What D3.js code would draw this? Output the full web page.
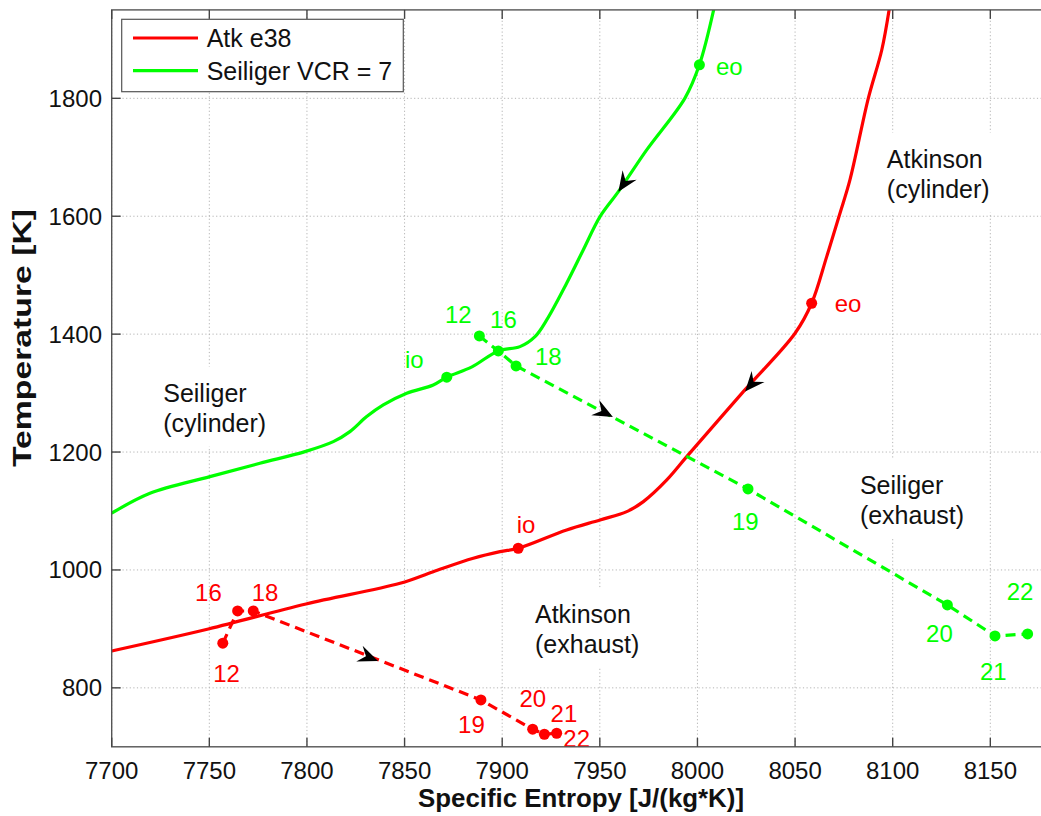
<!DOCTYPE html>
<html><head><meta charset="utf-8">
<script src="https://cdn.jsdelivr.net/npm/d3@7"></script>
<style>body{margin:0;background:#fff} text{font-family:"Liberation Sans",Arial,sans-serif}</style>
</head><body><svg id="c" width="1041" height="816"></svg>
<script>
// ---- data ----
const xTicks = [7700,7750,7800,7850,7900,7950,8000,8050,8100,8150];
const yTicks = [800,1000,1200,1400,1600,1800];
const seriesNames = ["Atk e38","Seiliger VCR = 7"];

const atkCycleS = [7700,7749.5,7799.5,7847.7,7864.7,7885.2,7898.9,7908.2,7933.0,7950.1,7963.8,7972.3,7984.3,7994.5,8023.5,8050.0,8058.5,8066.2,8073.0,8078.1,8087.5,8094.4,8098.3];
const atkCycleT = [862.6,899.9,942.3,977.4,997.1,1019.8,1031.0,1036.8,1067.9,1084.8,1098.9,1115.9,1152.7,1192.2,1302.5,1401.5,1452.4,1531.5,1605.1,1661.6,1800,1882,1953];
const seiCycleS = [7700,7719.6,7750.3,7775.9,7799.0,7813.5,7822.0,7830.6,7839.1,7851.1,7864.7,7871.6,7884.5,7898.0,7909.1,7916.8,7922.8,7933.0,7941.5,7950.1,7959.5,7974.0,7993.6,8001.0,8008.5];
const seiCycleT = [1096.2,1130.1,1158.3,1181.0,1200.7,1217.6,1234.6,1260.1,1279.9,1299.7,1313.8,1326.9,1344.4,1371.5,1378.8,1395.8,1424.1,1486.3,1542.8,1599.3,1641.7,1712.5,1800.4,1856.9,1953];

const exhLabels = ["12","16","18","19","20","21","22"];
const atkExhS = [7756.9,7764.5,7772.5,7889.1,7915.6,7921.6,7927.9];
const atkExhT = [875.7,930.4,930.4,779.5,729.8,721.3,723.0];
const seiExhS = [7888.3,7898.0,7907.1,8025.9,8128.0,8152.4,8169.1];
const seiExhT = [1396.9,1371.5,1346.1,1137.4,940.6,888.0,891.4];

const valveLabels = ["io","eo"];
const atkValveS = [7908.2,8058.5];
const atkValveT = [1036.8,1452.4];
const seiValveS = [7871.6,8001.0];
const seiValveT = [1326.9,1856.9];

// label anchor positions (data coords)
const atkExhLabS = [7752.0,7742.7,7771.7,7877.4,7908.8,7924.8,7931.3];
const atkExhLabT = [810.0,947.4,947.4,723.5,767.6,742.2,699.8];
const seiExhLabS = [7870.7,7893.8,7916.8,8017.7,8117.1,8144.7,8158.4];
const seiExhLabT = [1419.0,1410.5,1347.8,1067.9,877.9,813.4,949.1];
const atkValveLabS = [7907.4,8070.3];
const atkValveLabT = [1062.8,1438.2];
const seiValveLabS = [7850.2,8009.5];
const seiValveLabT = [1342.7,1839.7];

const regionNames = [["Atkinson","(cylinder)"],["Seiliger","(cylinder)"],["Atkinson","(exhaust)"],["Seiliger","(exhaust)"]];
const regionS = [8097,7726.4,7916.8,8083.2];
const regionT = [1682.5,1285.5,909.6,1128.9];

// arrows: tip and a point behind it (data coords)
const arrowTipS = [8024.4,7959.5,7956.7,7836.4];
const arrowTipT = [1302.5,1641.7,1259.5,845.6];
const arrowFromS = [8050.0,7974.0,7907.1,7772.5];
const arrowFromT = [1401.5,1712.5,1346.1,930.4];

// ---- drawing ----
const RED = "#ff0000", GREEN = "#00ff00";
const svg = d3.select("#c");
const L = 111.7, T0 = 9.9, B = 746.8;
const x = d3.scaleLinear().domain([7700,8200]).range([L, L + 500*1.9525]);
const y = d3.scaleLinear().domain([700,1950]).range([B, T0]);
const R = x(8200);

svg.append("defs").append("clipPath").attr("id","clip")
  .append("rect").attr("x",L).attr("y",T0).attr("width",R-L).attr("height",B-T0);

// grid
const grid = svg.append("g").attr("stroke","#b4b4b4").attr("stroke-width",1).attr("stroke-dasharray","1.2,2.4");
xTicks.forEach(t => grid.append("line").attr("x1",x(t)).attr("x2",x(t)).attr("y1",T0).attr("y2",B));
yTicks.forEach(t => grid.append("line").attr("x1",L).attr("x2",R).attr("y1",y(t)).attr("y2",y(t)));

// region annotations (white background)
const annBgLayer = svg.append("g");
const annTxtLayer = svg.append("g");
const annNodes = [];
regionNames.forEach((lines,i) => {
  const t = annTxtLayer.append("text").attr("font-size",25).attr("fill","#111");
  lines.forEach((ln,j) => t.append("tspan").attr("x",x(regionS[i])).attr("y",y(regionT[i]) + j*30).text(ln));
  annNodes.push(t);
});
annNodes.forEach(t => {
  const b = t.node().getBBox();
  annBgLayer.append("rect").attr("x",b.x-12).attr("y",b.y-12).attr("width",b.width+26).attr("height",b.height+22).attr("fill","#fff");
});

const plot = svg.append("g").attr("clip-path","url(#clip)");
const line = d3.line().x(d=>x(d[0])).y(d=>y(d[1])).curve(d3.curveCatmullRom.alpha(0.5));
const zip = (a,b) => a.map((v,i)=>[v,b[i]]);

plot.append("path").attr("d", line(zip(atkCycleS,atkCycleT))).attr("fill","none").attr("stroke",RED).attr("stroke-width",3.2);
plot.append("path").attr("d", line(zip(seiCycleS,seiCycleT))).attr("fill","none").attr("stroke",GREEN).attr("stroke-width",3.2);
const lin = d3.line().x(d=>x(d[0])).y(d=>y(d[1]));
plot.append("path").attr("d", lin(zip(atkExhS,atkExhT))).attr("fill","none").attr("stroke",RED).attr("stroke-width",3.2).attr("stroke-dasharray","10,6");
plot.append("path").attr("d", lin(zip(seiExhS,seiExhT))).attr("fill","none").attr("stroke",GREEN).attr("stroke-width",3.2).attr("stroke-dasharray","10,6");

// markers
function dots(S,Tv,col){
  plot.append("g").selectAll("circle").data(zip(S,Tv)).join("circle")
    .attr("cx",d=>x(d[0])).attr("cy",d=>y(d[1])).attr("r",5.5).attr("fill",col);
}
dots(atkExhS,atkExhT,RED); dots(seiExhS,seiExhT,GREEN);
dots(atkValveS,atkValveT,RED); dots(seiValveS,seiValveT,GREEN);

// arrows
arrowTipS.forEach((s,i) => {
  const tx = x(s), ty = y(arrowTipT[i]);
  const fx = x(arrowFromS[i]), fy = y(arrowFromT[i]);
  const ang = Math.atan2(ty-fy, tx-fx)*180/Math.PI;
  plot.append("path").attr("d","M0,0 L-20,-8.5 L-13,0 L-20,8.5 Z")
    .attr("transform",`translate(${tx},${ty}) rotate(${ang})`).attr("fill","#000");
});

// point labels
function labels(S,Tv,txt,col){
  svg.append("g").selectAll("text").data(txt).join("text")
    .attr("x",(d,i)=>x(S[i])).attr("y",(d,i)=>y(Tv[i])).attr("font-size",24).attr("fill",col).text(d=>d);
}
labels(atkExhLabS,atkExhLabT,exhLabels,RED);
labels(seiExhLabS,seiExhLabT,exhLabels,GREEN);
labels(atkValveLabS,atkValveLabT,valveLabels,RED);
labels(seiValveLabS,seiValveLabT,valveLabels,GREEN);

// axes box and ticks
const ax = svg.append("g");
ax.append("rect").attr("x",L).attr("y",T0).attr("width",R-L).attr("height",B-T0).attr("fill","none").attr("stroke","#555").attr("stroke-width",1.4);
const tk = ax.append("g").attr("stroke","#444").attr("stroke-width",1.4);
xTicks.forEach(t => {
  tk.append("line").attr("x1",x(t)).attr("x2",x(t)).attr("y1",B).attr("y2",B-9);
  tk.append("line").attr("x1",x(t)).attr("x2",x(t)).attr("y1",T0).attr("y2",T0+9);
});
yTicks.forEach(t => {
  tk.append("line").attr("x1",L).attr("x2",L+9).attr("y1",y(t)).attr("y2",y(t));
});
ax.append("g").selectAll("text").data(xTicks).join("text")
  .attr("x",d=>x(d)).attr("y",779).attr("text-anchor","middle").attr("font-size",24).attr("fill","#111").text(d=>d);
ax.append("g").selectAll("text").data(yTicks).join("text")
  .attr("x",102).attr("y",d=>y(d)+8.5).attr("text-anchor","end").attr("font-size",24).attr("fill","#111").text(d=>d);

svg.append("text").attr("x",581).attr("y",807).attr("text-anchor","middle").attr("font-size",25).attr("font-weight","bold").attr("fill","#111")
  .attr("textLength",326).attr("lengthAdjust","spacingAndGlyphs")
  .text("Specific Entropy [J/(kg*K)]");
svg.append("text").attr("transform",`translate(31,338) rotate(-90)`).attr("text-anchor","middle").attr("font-size",26).attr("font-weight","bold").attr("fill","#111")
  .attr("textLength",258).attr("lengthAdjust","spacingAndGlyphs")
  .text("Temperature [K]");

// legend
const lg = svg.append("g");
lg.append("rect").attr("x",121.7).attr("y",19.3).attr("width",281.6).attr("height",72.4).attr("fill","#fff").attr("stroke","#555").attr("stroke-width",1.2);
[RED,GREEN].forEach((c,i) => {
  const yy = 38 + i*32.7;
  lg.append("line").attr("x1",133).attr("x2",198).attr("y1",yy).attr("y2",yy).attr("stroke",c).attr("stroke-width",3.2);
  lg.append("text").attr("x",206.7).attr("y",yy+9).attr("font-size",25).attr("fill","#111").text(seriesNames[i]);
});
</script></body></html>
